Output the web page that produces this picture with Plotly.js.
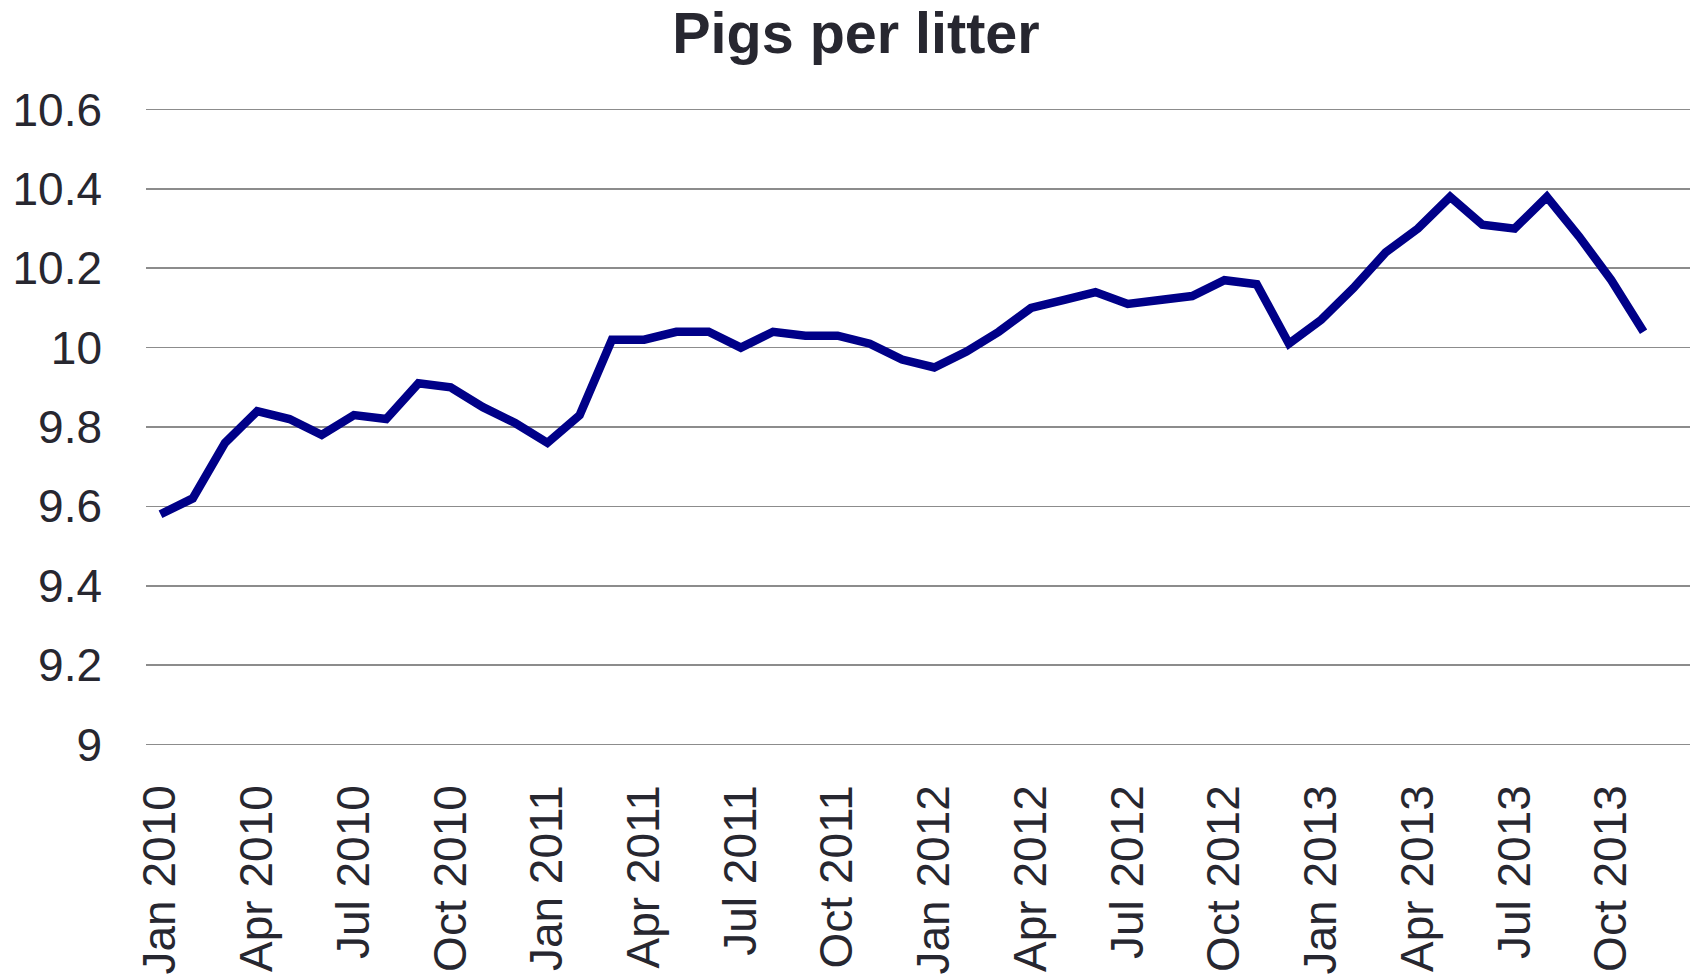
<!DOCTYPE html>
<html>
<head>
<meta charset="utf-8">
<script src="https://cdn.plot.ly/plotly-3.0.1.min.js"></script>
<style>
    html, body { margin: 0; padding: 0; background: #ffffff; }
    #chart { width: 1690px; height: 976px; }
</style>
</head>
<body>
<div id="chart"></div>
<script>
// monthly averages, Jan 2010 - Nov 2013
const months = [
    'Jan 2010', 'Feb 2010', 'Mar 2010', 'Apr 2010', 'May 2010', 'Jun 2010',
    'Jul 2010', 'Aug 2010', 'Sep 2010', 'Oct 2010', 'Nov 2010', 'Dec 2010',
    'Jan 2011', 'Feb 2011', 'Mar 2011', 'Apr 2011', 'May 2011', 'Jun 2011',
    'Jul 2011', 'Aug 2011', 'Sep 2011', 'Oct 2011', 'Nov 2011', 'Dec 2011',
    'Jan 2012', 'Feb 2012', 'Mar 2012', 'Apr 2012', 'May 2012', 'Jun 2012',
    'Jul 2012', 'Aug 2012', 'Sep 2012', 'Oct 2012', 'Nov 2012', 'Dec 2012',
    'Jan 2013', 'Feb 2013', 'Mar 2013', 'Apr 2013', 'May 2013', 'Jun 2013',
    'Jul 2013', 'Aug 2013', 'Sep 2013', 'Oct 2013', 'Nov 2013'
];

const pigsPerLitter = [
    9.58, 9.62, 9.76, 9.84, 9.82, 9.78, 9.83, 9.82, 9.91, 9.90, 9.85, 9.81,
    9.76, 9.83, 10.02, 10.02, 10.04, 10.04, 10.00, 10.04, 10.03, 10.03, 10.01, 9.97,
    9.95, 9.99, 10.04, 10.10, 10.12, 10.14, 10.11, 10.12, 10.13, 10.17, 10.16, 10.01,
    10.07, 10.15, 10.24, 10.30, 10.38, 10.31, 10.30, 10.38, 10.28, 10.17, 10.04
];

// every third month gets a label
const tickLabels = ['Jan 2010', 'Apr 2010', 'Jul 2010', 'Oct 2010',
    'Jan 2011', 'Apr 2011', 'Jul 2011', 'Oct 2011',
    'Jan 2012', 'Apr 2012', 'Jul 2012', 'Oct 2012',
    'Jan 2013', 'Apr 2013', 'Jul 2013', 'Oct 2013'];

const yTicks = [9, 9.2, 9.4, 9.6, 9.8, 10, 10.2, 10.4, 10.6];

const textColor = '#272730';
const gridColor = '#8c8c8c';

let data = [
    {
        x: months,
        y: pigsPerLitter,
        type: 'scatter',
        mode: 'lines',
        line: {
            color: '#000088',
            width: 8.5,
            shape: 'linear'
        },
        hoverinfo: 'x+y'
    }
];

let layout = {
    width: 1690,
    height: 976,
    showlegend: false,
    paper_bgcolor: '#ffffff',
    plot_bgcolor: '#ffffff',
    font: {
        family: '"Liberation Sans", Arial, sans-serif',
        color: textColor,
        size: 46
    },
    title: {
        text: '<b>Pigs per litter</b>',
        x: 0.5065,
        xanchor: 'center',
        y: 0.966,
        yanchor: 'middle',
        font: { size: 57.5, color: textColor }
    },
    margin: { l: 146, r: 0, t: 108, b: 230, pad: 0 },
    xaxis: {
        type: 'category',
        range: [-0.45, 47.44],
        tickmode: 'array',
        tickvals: tickLabels,
        ticktext: tickLabels,
        tickangle: -90,
        ticks: '',
        ticklabelstandoff: 29,
        showgrid: false,
        zeroline: false,
        showline: false,
        tickfont: { size: 46, color: textColor }
    },
    yaxis: {
        // tiny padding so the 9 and 10.6 gridlines are still drawn
        range: [8.996, 10.604],
        tickmode: 'array',
        tickvals: yTicks,
        ticktext: yTicks.map(v => String(v)),
        ticks: '',
        ticklabelstandoff: 43,
        showgrid: true,
        gridcolor: gridColor,
        gridwidth: 1.6,
        zeroline: false,
        showline: false,
        tickfont: { size: 46, color: textColor }
    }
};

Plotly.newPlot('chart', data, layout, { displayModeBar: false, staticPlot: true });
</script>
</body>
</html>
